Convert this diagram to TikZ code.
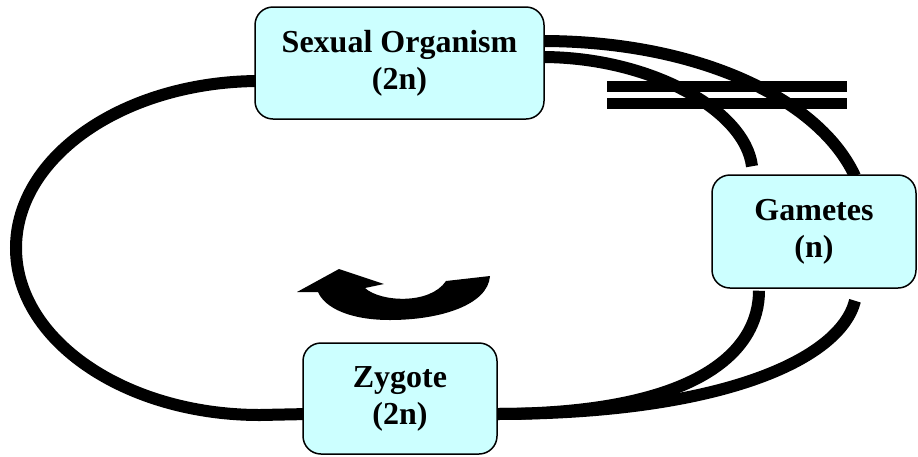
\documentclass[tikz,border=0pt]{standalone}
\usepackage{fontspec}
\setmainfont{Liberation Serif}
\definecolor{boxcyan}{HTML}{CCFFFF}
\pgfdeclarelayer{background}
\pgfsetlayers{background,main}
\begin{document}
\begin{tikzpicture}[x=1pt,y=-1pt,
  box/.style={draw=black, line width=1.5pt, fill=boxcyan, rounded corners=18pt,
    align=center, inner sep=0pt, font=\bfseries\fontsize{32}{37}\selectfont},
  band/.style={draw=black, line width=12pt}]
\useasboundingbox (0,0) rectangle (918,456);
% boxes
\node[box, minimum width=289pt, minimum height=112pt] (so) at (399.5,63) {Sexual Organism\\(2n)};
\node[box, minimum width=204pt, minimum height=113pt] (gam) at (814,231.5) {Gametes\\(n)};
\node[box, minimum width=194pt, minimum height=111pt] (zyg) at (400,398.5) {Zygote\\(2n)};
\coordinate (gtopfree) at ([xshift=-62pt,yshift=8pt]gam.north);
\coordinate (gbotfree) at ([xshift=41pt,yshift=-12pt]gam.south);
\begin{pgfonlayer}{background}
% big loop
\draw[band] ([xshift=6pt,yshift=-18pt]so.west) -- (260,81)
  arc[start angle=90, end angle=270, x radius=244pt, y radius=167pt]
  -- ([xshift=6pt,yshift=-15.5pt]zyg.west);
% top curves
\draw[band] ([xshift=-3pt,yshift=22pt]so.east) .. controls (700,41) and (820,100) .. ([xshift=41pt,yshift=-2pt]gam.north);
\draw[band] ([xshift=-3pt,yshift=6pt]so.east) .. controls (650,57) and (745,110) .. (gtopfree);
% bottom curves
\draw[band] ([xshift=-3pt,yshift=-15.5pt]zyg.east) .. controls (700,414) and (759,350) .. ([xshift=-55pt,yshift=-2pt]gam.south);
\draw[band] ([xshift=-3pt,yshift=-15.5pt]zyg.east) .. controls (720,414) and (840,360) .. (gbotfree);
% double bar
\fill[black] (607,81) rectangle (847,92);
\fill[black] (607,98) rectangle (847,109);
\end{pgfonlayer}
% curved block arrow
\fill[black] (297,292) -- (339,269) -- (384,284) -- (365,288)
  .. controls (380,302) and (430,305) .. (446,281)
  -- (490,276)
  .. controls (488,305) and (440,320) .. (390,320)
  .. controls (350,320) and (325,308) .. (318,292)
  -- cycle;
\end{tikzpicture}
\end{document}
